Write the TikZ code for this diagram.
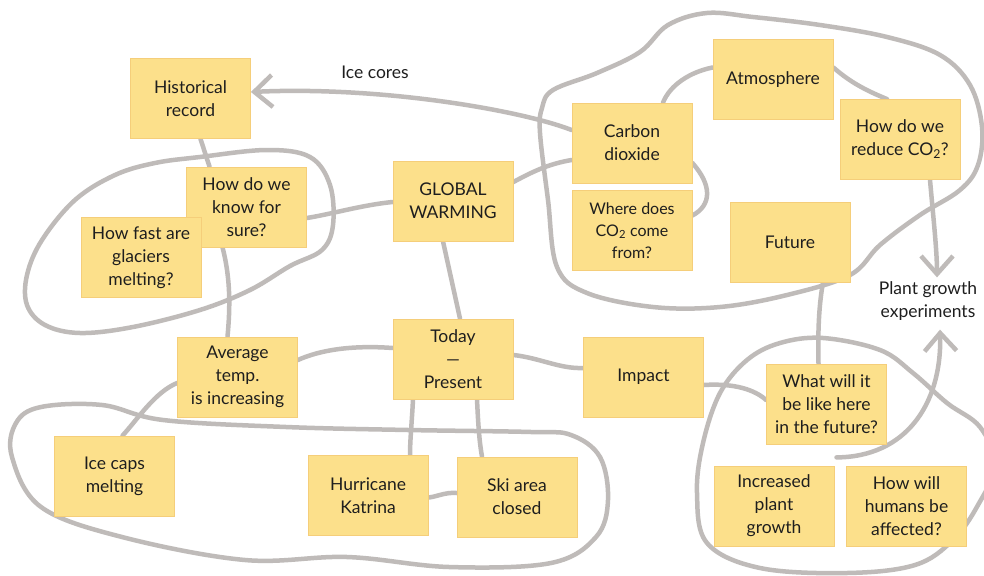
\documentclass[tikz,border=0pt]{standalone}
\usepackage{fontspec}
\setmainfont{Lato}
\usepackage{xcolor}
\usetikzlibrary{arrows.meta, positioning, calc, backgrounds}
\definecolor{notefill}{HTML}{FCE08B}
\definecolor{noteedge}{HTML}{F5CE7A}
\definecolor{sketchgray}{HTML}{BFBBB9}
\definecolor{inkcolor}{HTML}{1E1E1E}
\tikzset{
  note_box/.style={draw=noteedge, fill=notefill, text=inkcolor, minimum width=120pt, minimum height=80pt, line width=0.8pt, align=center, inner sep=1pt, font=\fontsize{17.5}{23}\selectfont},
  note_small/.style={note_box, font=\fontsize{16}{22}\selectfont},
  free_label/.style={text=inkcolor, align=center, inner sep=1pt, font=\fontsize{17.5}{23}\selectfont},
  sketch_line/.style={draw=sketchgray, line width=4.5pt, line cap=round, line join=round},
  sketch_arrow/.style={sketch_line, -{Straight Barb[length=18pt, width=32pt]}},
  sketch_loop/.style={sketch_line}
}

\begin{document}
\begin{tikzpicture}[x=1pt, y=-1pt]
\useasboundingbox (0,0) rectangle (984,575);
% notes
\node[note_box] (hist) at (190.5,98.5) {Historical\\record};
\node[note_box] (know) at (246.5,207) {How do we\\know for\\sure?};
\node[note_box] (fast) at (141,257.5) {How fast are\\glaciers\\melting?};
\node[note_box] (gw) at (453,201) {GLOBAL\\WARMING};
\node[note_box] (cd) at (632,143) {Carbon\\dioxide};
\node[note_box] (atm) at (773,79.5) {Atmosphere};
\node[note_box] (red) at (900,139.5) {How do we\\reduce CO\textsubscript{2}?};
\node[note_small] (where) at (632,230.5) {Where does\\CO\textsubscript{2} come\\from?};
\node[note_box] (fut) at (790,242) {Future};
\node[note_box] (today) at (453,359) {Today\\\textemdash\\Present};
\node[note_box] (avg) at (237.5,377) {Average\\temp.\\is increasing};
\node[note_box] (ice) at (114.5,476) {Ice caps\\melting};
\node[note_box] (hur) at (368,495.5) {Hurricane\\Katrina};
\node[note_box] (ski) at (517,497) {Ski area\\closed};
\node[note_box] (imp) at (643.5,377) {Impact};
\node[note_box] (what) at (826.5,404) {What will it\\be like here\\in the future?};
\node[note_box] (inc) at (774,506) {Increased\\plant\\growth};
\node[note_box] (hum) at (906.5,506) {How will\\humans be\\affected?};
% loose labels
\node[free_label] (cores) at (375,72) {Ice cores};
\node[free_label] (plant) at (928,301) {Plant growth\\experiments};
\begin{scope}[on background layer]
\fill[white] (0,0) rectangle (984,575);
\clip (0,0) rectangle (984,575);
% loops
\draw[sketch_loop] plot[smooth cycle, tension=0.6] coordinates {(200,157) (267,150) (310,157) (330,185) (333,225) (322,250) (290,266) (250,290) (200,310) (133,327) (80,333) (45,325) (27,305) (27,275) (42,240) (75,200) (115,175) (155,163)};
\draw[sketch_loop] plot[smooth cycle, tension=0.6] coordinates {(553,90) (597,73) (640,52) (668,25) (707,13) (753,17) (820,25) (887,37) (940,55) (970,85) (982,127) (978,165) (960,190) (920,215) (880,245) (850,275) (787,295) (720,307) (653,307) (587,293) (557,267) (548,200) (540,133) (542,108)};
\draw[sketch_loop] plot[smooth cycle, tension=0.6] coordinates {(16,423) (41,407) (102,405) (163,420) (286,427) (408,430) (531,432) (571,435) (600,457) (608,500) (596,537) (551,563) (449,567) (347,557) (245,560) (122,537) (41,507) (12,457)};
\draw[sketch_loop] plot[smooth cycle, tension=0.6] coordinates {(823,338) (880,350) (913,373) (947,403) (980,427) (995,465) (978,505) (953,540) (915,565) (847,573) (760,568) (707,543) (697,493) (703,443) (720,393) (747,360) (780,343)};
% links
\draw[sketch_arrow] ([yshift=13pt]cd.west) .. controls (520,110) and (380,86) .. ([yshift=6.5pt]hist.east);
\draw[sketch_line] ([yshift=-17pt]cd.west) .. controls (548,164) and (532,172) .. ([yshift=19pt]gw.east);
\draw[sketch_line] ([yshift=-1pt]gw.west) .. controls (362,205) and (332,214) .. ([yshift=-11pt]know.east);
\draw[sketch_line] ([xshift=10pt]hist.south) -- ([xshift=-37pt]know.north);
\draw[sketch_line] ([xshift=-24pt]know.south) .. controls (231,280) and (230,310) .. ([xshift=-10pt]avg.north);
\draw[sketch_line] ([xshift=-10pt]gw.south) -- ([xshift=7pt]today.north);
\draw[sketch_line] ([yshift=11pt]today.west) .. controls (352,345) and (320,350) .. ([yshift=17pt]avg.east);
\draw[sketch_line] ([yshift=-6pt]avg.west) .. controls (155,392) and (137,420) .. ([xshift=8pt]ice.north);
\draw[sketch_line] ([xshift=-40pt]today.south) .. controls (412,420) and (410,440) .. ([xshift=42pt]hur.north);
\draw[sketch_line] ([xshift=24pt]today.south) .. controls (478,420) and (479,440) .. ([xshift=-35pt]ski.north);
\draw[sketch_line] ([yshift=4pt]ski.west) .. controls (445,492) and (436,497) .. ([yshift=-2pt]hur.east);
\draw[sketch_line] ([yshift=4pt]today.east) .. controls (540,358) and (560,369) .. ([yshift=9pt]imp.west);
\draw[sketch_line] ([yshift=-8pt]imp.east) .. controls (735,383) and (755,390) .. ([yshift=4pt]what.west);
\draw[sketch_line] ([xshift=33pt]fut.south) .. controls (818,310) and (818,340) .. ([xshift=-8pt]what.north);
\draw[sketch_line] ([xshift=31pt]cd.north) .. controls (670,85) and (690,72) .. ([yshift=12pt]atm.west);
\draw[sketch_line] ([yshift=12pt]atm.east) .. controls (852,84) and (870,92) .. ([xshift=-13pt]red.north);
\draw[sketch_line] ([yshift=-20pt]cd.east) .. controls (712,185) and (712,205) .. ([yshift=15pt]where.east);
\draw[sketch_arrow] ([xshift=30pt]red.south) .. controls (933,215) and (937,250) .. ([xshift=9pt, yshift=3pt]plant.north);
\draw[sketch_arrow] ([xshift=10pt, yshift=-13pt]what.south) .. controls (905,457) and (942,405) .. ([xshift=12pt, yshift=-8pt]plant.south);
\end{scope}
\end{tikzpicture}
\end{document}
